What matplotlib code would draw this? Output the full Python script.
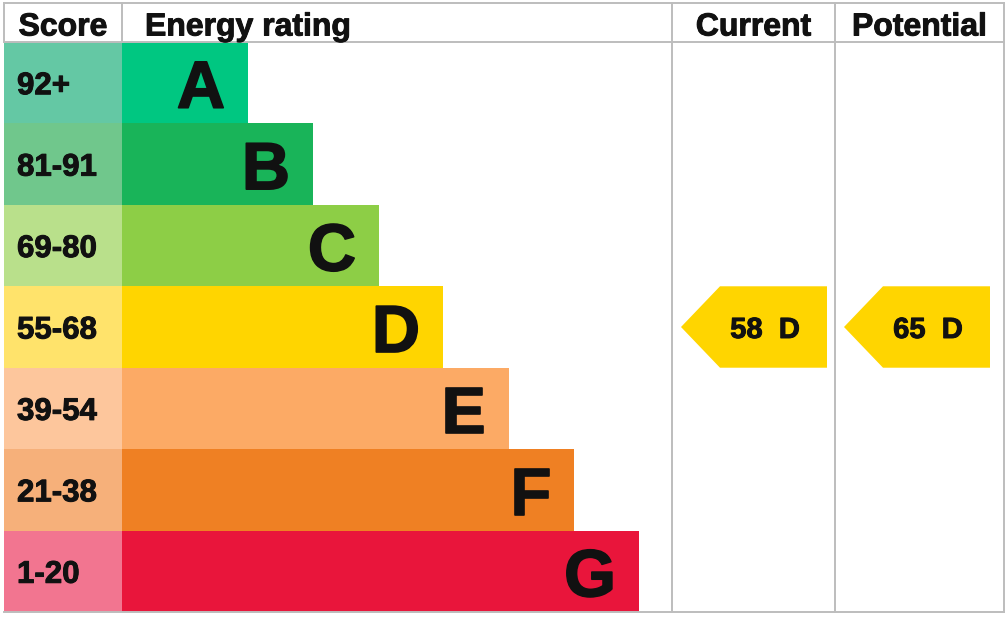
import matplotlib.pyplot as plt
import matplotlib.patheffects as pe
from matplotlib.patches import Polygon

plt.rcParams['font.family'] = ['Liberation Sans', 'DejaVu Sans']

# EPC bands
bands = ['A', 'B', 'C', 'D', 'E', 'F', 'G']
score_ranges = ['92+', '81-91', '69-80', '55-68', '39-54', '21-38', '1-20']
band_min = [92, 81, 69, 55, 39, 21, 1]
bar_colors = ['#00c781', '#19b459', '#8dce46', '#ffd500', '#fcaa65', '#ef8023', '#e9153b']
score_colors = ['#64c8a4', '#70c78c', '#b9e08b', '#ffe36b', '#fdc69c', '#f6b07a', '#f27590']

current_score = 58
potential_score = 65

# layout (pixels)
W, H = 1008, 622
left, right = 4, 1004
top, head = 3, 42
bottom = 612
score_x = 122
col_current = 672
col_potential = 835
bar_ends = [248, 313, 379, 443, 509, 574, 639]
row_h = (bottom - head) / len(bands)
grid = '#bdbdbd'
ink = '#111111'
bolder = [pe.withStroke(linewidth=0.7, foreground=ink)]


def band_of(score):
    for i, m in enumerate(band_min):
        if score >= m:
            return i
    return len(bands) - 1


fig = plt.figure(figsize=(W / 100, H / 100), dpi=100)
ax = fig.add_axes([0, 0, 1, 1])
ax.set_xlim(0, W)
ax.set_ylim(H, 0)
ax.axis('off')

ys = [head + row_h * (i + 0.5) for i in range(len(bands))]

# score column and coloured bars
ax.barh(ys, score_x - left, height=row_h, left=left, color=score_colors, linewidth=0)
ax.barh(ys, [e - score_x for e in bar_ends], height=row_h, left=score_x,
        color=bar_colors, linewidth=0)

for i, y in enumerate(ys):
    ax.text(17, y, score_ranges[i], ha='left', va='center_baseline',
            fontsize=22.5, fontweight='bold', color=ink, path_effects=bolder)
    ax.text(bar_ends[i] - 23, y + 1, bands[i], ha='right', va='center_baseline',
            fontsize=48, fontweight='bold', color=ink,
            path_effects=[pe.withStroke(linewidth=1.2, foreground=ink)])

# grid lines
lw = 1.4
ax.plot([left, right], [top, top], color=grid, lw=lw)
ax.plot([left, right], [head, head], color=grid, lw=lw)
ax.plot([left, right], [bottom, bottom], color=grid, lw=lw)
ax.plot([left, left], [top, head], color=grid, lw=lw)
ax.plot([score_x, score_x], [top, head], color=grid, lw=lw)
for x in (col_current, col_potential, right):
    ax.plot([x, x], [top, bottom], color=grid, lw=lw)

# headers
hfs = 23
hy = 24
ax.text((left + score_x) / 2, hy, 'Score', ha='center', va='center_baseline',
        fontsize=hfs, fontweight='bold', color=ink, path_effects=bolder)
ax.text(145, hy, 'Energy rating', ha='left', va='center_baseline',
        fontsize=hfs, fontweight='bold', color=ink, path_effects=bolder)
ax.text((col_current + col_potential) / 2, hy, 'Current', ha='center',
        va='center_baseline', fontsize=hfs, fontweight='bold', color=ink,
        path_effects=bolder)
ax.text((col_potential + right) / 2, hy, 'Potential', ha='center',
        va='center_baseline', fontsize=hfs, fontweight='bold', color=ink,
        path_effects=bolder)


def arrow(x0, score):
    i = band_of(score)
    y0 = head + row_h * i
    y1 = y0 + row_h
    tip, body, end = x0 + 9, x0 + 48, x0 + 155
    pts = [(tip, (y0 + y1) / 2), (body, y0), (end, y0), (end, y1), (body, y1)]
    ax.add_patch(Polygon(pts, closed=True, facecolor=bar_colors[i], edgecolor='none'))
    ax.text(tip + 84, (y0 + y1) / 2, f'{score}  {bands[i]}', ha='center',
            va='center_baseline', fontsize=21, fontweight='bold', color=ink,
            path_effects=bolder)


arrow(col_current, current_score)
arrow(col_potential, potential_score)

fig.savefig('out.png', dpi=100)
